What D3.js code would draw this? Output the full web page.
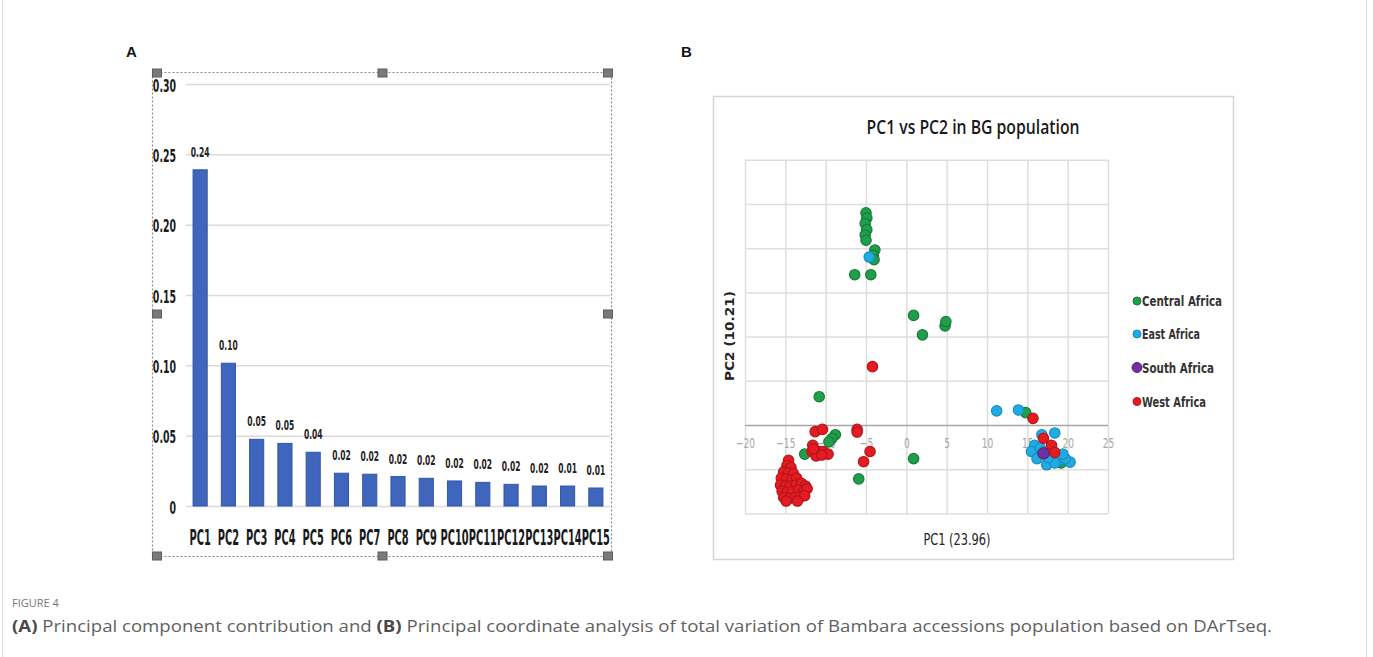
<!DOCTYPE html>
<html>
<head>
<meta charset="utf-8">
<script src="https://cdn.jsdelivr.net/npm/d3@7/dist/d3.min.js"></script>
<style>
    body { margin: 0; background: #fff; }
    svg { display: block; }
</style>
</head>
<body>
<script>
// Panel A: principal component contribution
var pcNames = ['PC1', 'PC2', 'PC3', 'PC4', 'PC5', 'PC6', 'PC7', 'PC8', 'PC9',
               'PC10', 'PC11', 'PC12', 'PC13', 'PC14', 'PC15'];
var pcValues = [0.239, 0.1015, 0.0474, 0.0445, 0.0382, 0.0233, 0.0226, 0.0209,
                0.0197, 0.0178, 0.0168, 0.0154, 0.0142, 0.0142, 0.0128];
var pcLabels = ['0.24', '0.10', '0.05', '0.05', '0.04', '0.02', '0.02', '0.02',
                '0.02', '0.02', '0.02', '0.02', '0.02', '0.01', '0.01'];
var pcTicks = [0, 0.05, 0.10, 0.15, 0.20, 0.25, 0.30];

// Panel B: PC1 vs PC2 scatter, one array of [PC1, PC2] per region
var centralAfrica = [
    [-5.0, 24.0], [-4.9, 23.4], [-5.1, 22.8], [-4.9, 22.1], [-5.1, 21.5],
    [-5.0, 20.9], [-3.9, 19.8], [-4.1, 19.2], [-4.0, 18.7], [-6.4, 17.0],
    [-4.4, 17.0], [0.9, 12.4], [2.0, 10.2], [4.8, 11.2], [4.9, 11.7],
    [-10.8, 3.2], [-8.8, -1.1], [-9.2, -1.5], [-9.6, -1.9], [-12.6, -3.3],
    [-5.9, -6.1], [0.9, -3.8], [14.8, 1.4], [19.2, -4.3]
];
var eastAfrica = [
    [-4.6, 19.0], [11.2, 1.6], [13.9, 1.7], [16.8, -1.1], [18.4, -0.9],
    [15.9, -2.3], [15.5, -3.0], [16.2, -3.8], [17.4, -4.5], [19.0, -4.0],
    [20.3, -4.2], [19.7, -3.8], [18.4, -4.3], [17.6, -3.7], [16.6, -2.6],
    [19.4, -3.3]
];
var southAfrica = [
    [17.0, -3.2]
];
var westAfrica = [
    [-4.2, 6.6], [-11.3, -0.75], [-10.4, -0.5], [-6.1, -0.5], [-6.1, -0.8],
    [-4.5, -3.0], [-5.3, -4.15], [15.7, 0.75], [17.0, -1.5], [18.0, -2.3],
    [18.4, -3.1],
    [-11.6, -2.3], [-11.7, -3.0], [-10.9, -3.0], [-10.3, -3.0], [-9.7, -3.3],
    [-11.2, -3.5], [-10.5, -3.4], [-11.5, -2.7],
    [-14.6, -4.0], [-14.8, -4.6], [-14.3, -4.8], [-15.2, -5.3], [-14.6, -5.4],
    [-14.0, -5.5], [-15.5, -6.0], [-14.9, -6.1], [-14.2, -6.2], [-13.6, -6.0],
    [-15.6, -6.8], [-15.0, -6.9], [-14.4, -6.9], [-13.7, -6.8], [-13.0, -6.6],
    [-12.5, -6.9], [-15.4, -7.5], [-14.8, -7.6], [-14.1, -7.5], [-13.4, -7.4],
    [-12.7, -7.5], [-12.3, -7.2], [-15.2, -8.2], [-14.5, -8.3], [-13.8, -8.2],
    [-13.1, -8.1], [-12.6, -8.0], [-14.9, -8.6], [-13.5, -8.6]
];
var regionNames = ['Central Africa', 'East Africa', 'South Africa', 'West Africa'];
var pc1Ticks = [-20, -15, -10, -5, 0, 5, 10, 15, 20, 25];
var pc2Ticks = [-10, -5, 0, 5, 10, 15, 20, 25, 30];

var condensed = '"DejaVu Sans Condensed", "DejaVu Sans", sans-serif';

var svg = d3.select('body')
    .append('svg')
    .attr('width', 1373)
    .attr('height', 657);

// light frame of the figure container
svg.append('line').attr('x1', 2.5).attr('x2', 2.5).attr('y1', 0).attr('y2', 657)
    .attr('stroke', '#dcdcdc');
svg.append('line').attr('x1', 1366.5).attr('x2', 1366.5).attr('y1', 0).attr('y2', 657)
    .attr('stroke', '#dcdcdc');

// panel letters
svg.append('text').attr('x', 126).attr('y', 57).text('A')
    .attr('font-family', 'Liberation Sans, Arial, sans-serif')
    .attr('font-weight', 'bold').attr('font-size', 15).attr('fill', '#111');
svg.append('text').attr('x', 681).attr('y', 57).text('B')
    .attr('font-family', 'Liberation Sans, Arial, sans-serif')
    .attr('font-weight', 'bold').attr('font-size', 15).attr('fill', '#111');

/**
 * Bar chart of the component contributions (panel A).
 */
var barChart = function() {

    var x = d3.scaleBand()
        .domain(pcNames)
        .range([186, 610])
        .paddingInner(0.5)
        .paddingOuter(0.25);

    var y = d3.scaleLinear()
        .domain([0, 0.30])
        .range([506, 84]);

    var g = svg.append('g');

    // gridlines
    g.append('g')
        .attr('transform', 'translate(186,0)')
        .call(d3.axisLeft(y).tickValues(pcTicks).tickSize(-424).tickFormat(''))
        .call(function(s) {
            s.select('.domain').remove();
            s.selectAll('line').attr('stroke', '#dadada').attr('stroke-width', 1.5);
        });

    // y tick labels
    var sy = 0.58;
    g.append('g')
        .attr('transform', 'translate(186,0)')
        .call(d3.axisLeft(y).tickValues(pcTicks).tickSize(0)
            .tickFormat(function(d) { return d === 0 ? '0' : d3.format('.2f')(d); }))
        .call(function(s) {
            s.select('.domain').remove();
            s.selectAll('text')
                .attr('x', -10 / sy)
                .attr('dy', '0.4em')
                .attr('transform', 'scale(' + sy + ',1)')
                .attr('font-family', condensed)
                .attr('font-weight', 'bold')
                .attr('font-size', 18)
                .attr('fill', '#1a1a1a');
        });

    // bars
    g.selectAll('rect.bar')
        .data(pcValues)
        .enter()
        .append('rect')
        .attr('class', 'bar')
        .attr('x', function(d, i) { return x(pcNames[i]); })
        .attr('y', function(d) { return y(d); })
        .attr('width', x.bandwidth())
        .attr('height', function(d) { return y(0) - y(d); })
        .attr('fill', '#3f65bd')
        .attr('stroke', '#3157a8')
        .attr('stroke-width', 1);

    // value labels
    var sl = 0.6;
    g.selectAll('g.lab')
        .data(pcValues)
        .enter()
        .append('g')
        .attr('transform', function(d, i) {
            return 'translate(' + (x(pcNames[i]) + x.bandwidth() / 2) + ',' + (y(d) - 13) + ')';
        })
        .append('text')
        .attr('text-anchor', 'middle')
        .attr('transform', 'scale(' + sl + ',1)')
        .attr('font-family', condensed)
        .attr('font-weight', 'bold')
        .attr('font-size', 14)
        .attr('fill', '#222')
        .text(function(d, i) { return pcLabels[i]; });

    // category labels
    var sx = 0.52;
    g.append('g')
        .attr('transform', 'translate(0,506)')
        .call(d3.axisBottom(x).tickSize(0))
        .call(function(s) {
            s.select('.domain').remove();
            s.selectAll('text')
                .attr('y', 39)
                .attr('dy', 0)
                .attr('transform', 'scale(' + sx + ',1)')
                .attr('font-family', condensed)
                .attr('font-weight', 'bold')
                .attr('font-size', 21)
                .attr('fill', '#1a1a1a');
        });

    // dotted selection frame with handles
    svg.append('rect')
        .attr('x', 152.5).attr('y', 72.5)
        .attr('width', 459).attr('height', 484)
        .attr('fill', 'none')
        .attr('stroke', '#8a8a8a')
        .attr('stroke-width', 1.2)
        .attr('stroke-dasharray', '2,2');

    var hx = [157, 382.5, 608];
    var hy = [73, 314, 556];
    hx.forEach(function(cx) {
        hy.forEach(function(cy) {
            if (cx === 382.5 && cy === 314) return;
            svg.append('rect')
                .attr('x', cx - 4.5).attr('y', cy - 4)
                .attr('width', 9).attr('height', 8)
                .attr('fill', '#7a7a7a')
                .attr('stroke', '#5e5e5e');
        });
    });
};

/**
 * Scatter plot of PC1 vs PC2 (panel B).
 */
var scatterChart = function() {

    var x = d3.scaleLinear().domain([-20, 25]).range([745, 1108]);
    var y = d3.scaleLinear().domain([-10, 30]).range([513.4, 159.8]);

    var g = svg.append('g');

    // outer chart frame
    g.append('rect')
        .attr('x', 713.5).attr('y', 96.5)
        .attr('width', 520).attr('height', 463)
        .attr('fill', 'none')
        .attr('stroke', '#d6d6d6')
        .attr('stroke-width', 1.5);

    // gridlines
    g.append('g')
        .attr('transform', 'translate(0,513.4)')
        .call(d3.axisBottom(x).tickValues(pc1Ticks).tickSize(-353.6).tickFormat(''))
        .call(function(s) {
            s.select('.domain').remove();
            s.selectAll('line').attr('stroke', '#dedede').attr('stroke-width', 1.5);
        });
    g.append('g')
        .attr('transform', 'translate(745,0)')
        .call(d3.axisLeft(y).tickValues(pc2Ticks).tickSize(-363).tickFormat(''))
        .call(function(s) {
            s.select('.domain').remove();
            s.selectAll('line')
                .attr('stroke', function(d) { return d === 0 ? '#a6a6a6' : '#dedede'; })
                .attr('stroke-width', 1.5);
        });

    // x tick labels sit just under the zero line
    var st = 0.72;
    g.append('g')
        .attr('transform', 'translate(0,' + y(0) + ')')
        .call(d3.axisBottom(x).tickValues(pc1Ticks).tickSize(0))
        .call(function(s) {
            s.select('.domain').remove();
            s.selectAll('text')
                .attr('y', 23)
                .attr('dy', 0)
                .attr('transform', 'scale(' + st + ',1)')
                .attr('font-family', condensed)
                .attr('font-size', 14)
                .attr('fill', '#a8a8a8');
        });

    var groups = [
        { pts: centralAfrica, fill: '#1f9e4b', stroke: '#167c38', r: 5.2 },
        { pts: eastAfrica, fill: '#22abe3', stroke: '#168ec2', r: 5.2 },
        { pts: westAfrica, fill: '#e41c22', stroke: '#b5141a', r: 5.2 },
        { pts: southAfrica, fill: '#7131a3', stroke: '#55237e', r: 5.6 }
    ];

    groups.forEach(function(grp) {
        g.append('g')
            .selectAll('circle')
            .data(grp.pts)
            .enter()
            .append('circle')
            .attr('cx', function(d) { return x(d[0]); })
            .attr('cy', function(d) { return y(d[1]); })
            .attr('r', grp.r)
            .attr('fill', grp.fill)
            .attr('stroke', grp.stroke)
            .attr('stroke-width', 1.2);
    });

    // title and axis titles
    g.append('text')
        .attr('x', 973).attr('y', 134)
        .attr('text-anchor', 'middle')
        .attr('font-family', '"Open Sans", sans-serif')
        .attr('font-weight', 600)
        .attr('font-size', 19)
        .attr('textLength', 213)
        .attr('lengthAdjust', 'spacingAndGlyphs')
        .attr('fill', '#1a1a1a')
        .text('PC1 vs PC2 in BG population');

    g.append('text')
        .attr('transform', 'translate(734,336) rotate(-90)')
        .attr('text-anchor', 'middle')
        .attr('font-family', '"DejaVu Sans", sans-serif')
        .attr('font-weight', 'bold')
        .attr('font-size', 12)
        .attr('textLength', 90)
        .attr('lengthAdjust', 'spacingAndGlyphs')
        .attr('fill', '#222')
        .text('PC2 (10.21)');

    g.append('text')
        .attr('x', 957).attr('y', 545)
        .attr('text-anchor', 'middle')
        .attr('font-family', condensed)
        .attr('font-size', 15)
        .attr('textLength', 67)
        .attr('lengthAdjust', 'spacingAndGlyphs')
        .attr('fill', '#222')
        .text('PC1 (23.96)');

    // legend
    var legendY = [301, 334, 367.5, 401.5];
    var legendColors = [groups[0], groups[1], groups[3], groups[2]];
    var legendWidths = [80, 58, 72, 64];
    var legend = g.selectAll('g.key')
        .data(regionNames)
        .enter()
        .append('g')
        .attr('transform', function(d, i) { return 'translate(1137,' + legendY[i] + ')'; });

    legend.append('circle')
        .attr('r', function(d, i) { return i === 2 ? 5 : 4; })
        .attr('fill', function(d, i) { return legendColors[i].fill; })
        .attr('stroke', function(d, i) { return legendColors[i].stroke; });

    legend.append('text')
        .attr('x', 5)
        .attr('dy', '0.36em')
        .attr('font-family', condensed)
        .attr('font-weight', 'bold')
        .attr('font-size', 14)
        .attr('textLength', function(d, i) { return legendWidths[i]; })
        .attr('lengthAdjust', 'spacingAndGlyphs')
        .attr('fill', '#333')
        .text(function(d) { return d; });
};

barChart();
scatterChart();

// caption
svg.append('text')
    .attr('x', 12).attr('y', 607)
    .attr('font-family', '"Open Sans", sans-serif')
    .attr('font-size', 11)
    .attr('fill', '#777')
    .text('FIGURE 4');

var caption = svg.append('text')
    .attr('x', 12).attr('y', 632)
    .attr('font-family', '"Open Sans", sans-serif')
    .attr('font-size', 15.5)
    .attr('fill', '#5f5f5f')
    .attr('textLength', 1260)
    .attr('lengthAdjust', 'spacingAndGlyphs');
caption.append('tspan').attr('font-weight', 'bold').attr('fill', '#4a4a4a').text('(A)');
caption.append('tspan').text(' Principal component contribution and ');
caption.append('tspan').attr('font-weight', 'bold').attr('fill', '#4a4a4a').text('(B)');
caption.append('tspan').text(' Principal coordinate analysis of total variation of Bambara accessions population based on DArTseq.');
</script>
</body>
</html>
